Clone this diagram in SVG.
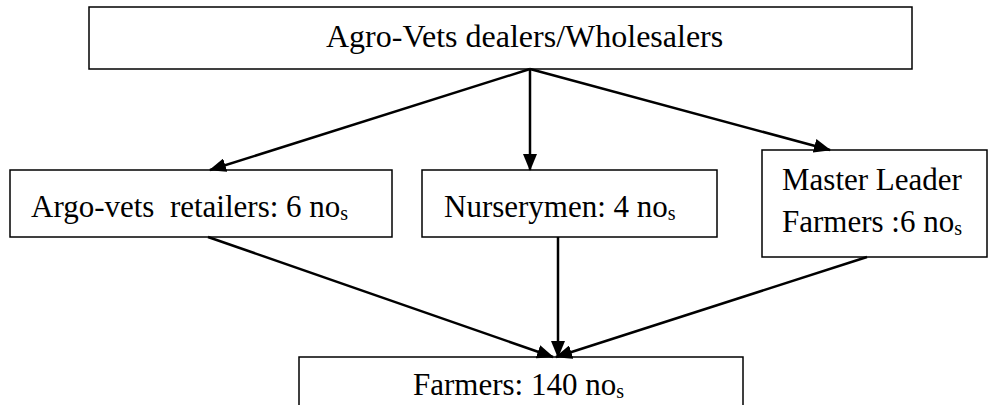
<svg xmlns="http://www.w3.org/2000/svg" width="989" height="405" viewBox="0 0 989 405">
<style>
.box{fill:#fff;stroke:#000;stroke-width:1.5}
text{font-family:'Liberation Serif','Times New Roman',serif;font-size:31px;fill:#000}
.big{font-size:32px}
.sub{font-size:20px}
.c{stroke:#000;stroke-width:2.5;fill:none;marker-end:url(#ah)}
</style>
<defs>
<marker id="ah" markerUnits="userSpaceOnUse" markerWidth="17" markerHeight="14" refX="16" refY="7" orient="auto">
<path d="M0,0 L17,7 L0,14 Z" fill="#000"/>
</marker>
</defs>
<rect width="989" height="405" fill="#fff"/>
<g id="wholesalers">
<rect class="box" x="89" y="7" width="823" height="62"/>
<text class="big" x="326" y="47">Agro-Vets dealers/Wholesalers</text>
</g>
<g id="retailers">
<rect class="box" x="10" y="170" width="382" height="67"/>
<text x="31" y="217" xml:space="preserve">Argo-vets  retailers: 6 no<tspan class="sub" dy="3">s</tspan></text>
</g>
<g id="nurserymen">
<rect class="box" x="422" y="170" width="295" height="67"/>
<text x="444" y="217">Nurserymen: 4 no<tspan class="sub" dy="3">s</tspan></text>
</g>
<g id="masterfarmers">
<rect class="box" x="762" y="150" width="225" height="107"/>
<text x="782" y="190">Master Leader</text>
<text x="782" y="232">Farmers :6 no<tspan class="sub" dy="3">s</tspan></text>
</g>
<g id="farmers">
<rect class="box" x="299" y="357" width="444" height="60"/>
<text x="413" y="395">Farmers: 140 no<tspan class="sub" dy="3">s</tspan></text>
</g>
<g id="connectors">
<line class="c" x1="530" y1="69" x2="210" y2="170"/>
<line class="c" x1="530" y1="69" x2="530" y2="170"/>
<line class="c" x1="530" y1="69" x2="830" y2="150"/>
<line class="c" x1="208" y1="237" x2="553" y2="357"/>
<line class="c" x1="558" y1="237" x2="558" y2="357"/>
<line class="c" x1="867" y1="257" x2="556" y2="357"/>
</g>
</svg>
